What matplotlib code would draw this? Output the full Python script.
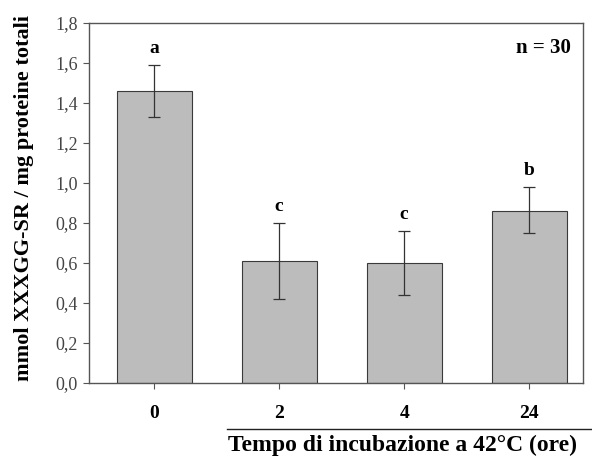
import numpy as np
import matplotlib.pyplot as plt

plt.rcParams['font.family'] = ['Liberation Serif', 'DejaVu Serif']
plt.rcParams['font.weight'] = 'bold'

categories = ['0', '2', '4', '24']
values = [1.46, 0.61, 0.60, 0.86]
err_up = [0.13, 0.19, 0.16, 0.12]
err_low = [0.13, 0.19, 0.16, 0.11]
letters = ['a', 'c', 'c', 'b']

fig = plt.figure(figsize=(5.92, 4.57), dpi=100)
ax = fig.add_axes([89/592, 1-383/457, 494/592, 360/457])

x = np.arange(len(categories))
ax.bar(x, values, width=0.6, color='#bcbcbc', edgecolor='#3a3a3a', linewidth=0.8, zorder=2)
ax.errorbar(x, values, yerr=[err_low, err_up], fmt='none', ecolor='#333333',
            elinewidth=0.9, capsize=4, capthick=0.9, zorder=3)
for xi, v, e, l in zip(x, values, err_up, letters):
    ax.text(xi, v + e + 0.04, l, ha='center', va='bottom', fontsize=14, fontweight='bold')

ax.text(0.975, 0.93, 'n = 30', transform=ax.transAxes, ha='right', va='center',
        fontsize=15, fontweight='bold')

ax.set_xlim(-0.52, 3.43)
ax.set_ylim(0, 1.8)
ax.set_yticks(np.arange(0, 1.81, 0.2))
ax.set_yticklabels([('%.1f' % t).replace('.', ',') for t in np.arange(0, 1.81, 0.2)],
                   fontsize=13, fontweight='normal', color='#444444')
ax.set_xticks(x)
ax.set_xticklabels(categories, fontsize=14, fontweight='bold')
ax.tick_params(axis='x', length=4, pad=12, color='#555555')
ax.tick_params(axis='y', length=4, pad=4, color='#555555')
for s in ax.spines.values():
    s.set_color('#555555')
    s.set_linewidth(1.0)

ax.set_ylabel('mmol XXXGG-SR / mg proteine totali', fontsize=16, fontweight='bold')
ax.yaxis.set_label_coords(-(89 - 34)/494, 0.515)

fig.add_artist(plt.Line2D([227/592, 1.0], [1-429/457, 1-429/457], color='#222222', linewidth=1.0))
fig.text(403/592, 1-445/457, 'Tempo di incubazione a 42°C (ore)', ha='center', va='center',
         fontsize=17, fontweight='bold')

fig.savefig('out.png', dpi=100)
